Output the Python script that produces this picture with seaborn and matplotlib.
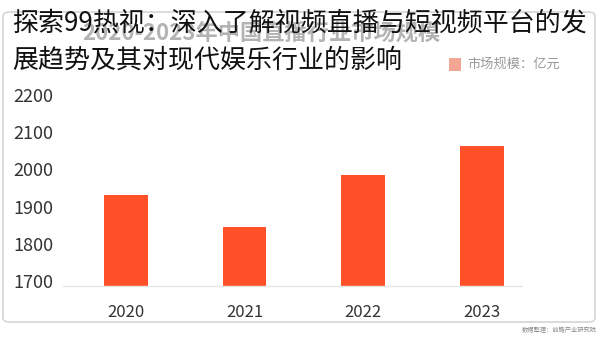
import matplotlib
matplotlib.use("Agg")
import matplotlib.pyplot as plt
import seaborn as sns
import pandas as pd
from matplotlib.patches import FancyBboxPatch

years = ["2020", "2021", "2022", "2023"]
values = [1932, 1845, 1985, 2062]
y_ticks = [1700, 1800, 1900, 2000, 2100, 2200]
title_line1 = "探索99热视：深入了解视频直播与短视频平台的发"
title_line2 = "展趋势及其对现代娱乐行业的影响"
bg_title = "2020-2023年中国直播行业市场规模"
legend_label = "市场规模：亿元"
source_text = "数据整理：前瞻产业研究院"

sns.set_theme(style="white")
plt.rcParams['font.family'] = ['Noto Sans CJK SC', 'DejaVu Sans']

W, H = 600, 337
fig = plt.figure(figsize=(6.0, 3.37), dpi=100)
fig.patch.set_facecolor("white")

# card
card = FancyBboxPatch((3 / W, (H - 322) / H), 592 / W, 310 / H,
                      boxstyle="round,pad=0,rounding_size=0.012",
                      transform=fig.transFigure, facecolor="white",
                      edgecolor="#d6d6d6", linewidth=1.2, zorder=-5)
fig.patches.append(card)

ax = fig.add_axes([63 / W, (H - 286) / H, (522 - 63) / W, (286 - 95) / H])
ax.set_zorder(2)
df = pd.DataFrame({"year": years, "value": values})
sns.barplot(data=df, x="year", y="value", color="#FF5028", width=0.37,
            saturation=1, ax=ax, edgecolor="none")
ax.set_ylim(1686.5, 2200)
ax.set_xlim(-0.53, 3.34)
ax.set_yticks(y_ticks)
ax.set_yticklabels([str(t) for t in y_ticks], fontsize=13, color="#333333",
                   fontweight="medium")
ax.set_xticks(range(len(years)))
ax.set_xticklabels(years, fontsize=12, color="#333333", fontweight="medium")
ax.tick_params(axis="y", length=0, pad=7)
ax.tick_params(axis="x", length=0, pad=13)
ax.set_xlabel("")
ax.set_ylabel("")
for s in ["top", "right", "left"]:
    ax.spines[s].set_visible(False)
ax.spines["bottom"].set_color("#e6e6e6")
ax.spines["bottom"].set_linewidth(1.0)
ax.patch.set_alpha(0)

# faded background title
fig.text(261 / W, (H - 33) / H, bg_title, fontsize=16, fontweight="heavy",
         color="#b3b3b3", ha="center", va="center", zorder=1)

# legend
fig.patches.append(plt.Rectangle((449 / W, (H - 71) / H), 12 / W, 13 / H,
                                 transform=fig.transFigure,
                                 facecolor="#F4A694", edgecolor="none"))
fig.text(467 / W, (H - 64.5) / H, legend_label, fontsize=9.5,
         color="#9a9a9a", ha="left", va="center")

# overlay title
fig.text(12 / W, (H - 23) / H, title_line1, fontsize=18.7, color="#111111",
         ha="left", va="center", zorder=5)
fig.text(12 / W, (H - 60) / H, title_line2, fontsize=18.7, color="#111111",
         ha="left", va="center", zorder=5)

# source
fig.text(597 / W, (H - 330) / H, source_text, fontsize=4.5,
         color="#8a8a8a", ha="right", va="center")

fig.savefig("out.png", dpi=100, facecolor="white")
